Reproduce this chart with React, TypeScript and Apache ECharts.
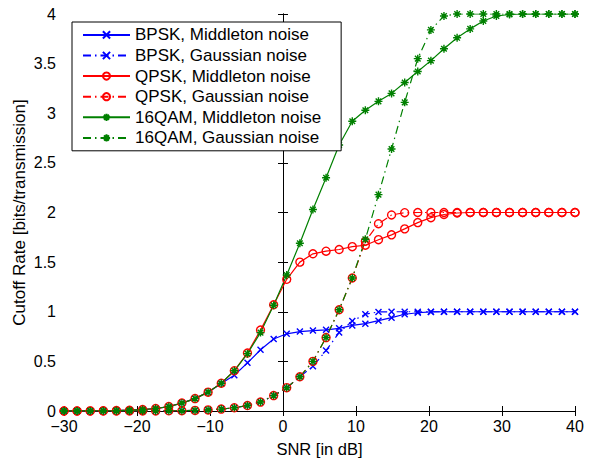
import React, { useEffect, useRef } from "react";
import * as echarts from "echarts";

const snr = [
  -30, -28.21, -26.41, -24.62, -22.82, -21.03, -19.23, -17.44, -15.64, -13.85,
  -12.05, -10.26, -8.46, -6.67, -4.87, -3.08, -1.28, 0.51, 2.31, 4.1,
  5.9, 7.69, 9.49, 11.28, 13.08, 14.87, 16.67, 18.46, 20.26, 22.05,
  23.85, 25.64, 27.44, 29.23, 31.03, 32.82, 34.62, 36.41, 38.21, 40,
];

const bpskMiddleton = [
  0, 0, 0.001, 0.002, 0.004, 0.008, 0.014, 0.025, 0.045, 0.08,
  0.125, 0.19, 0.277, 0.36, 0.485, 0.617, 0.726, 0.778, 0.8, 0.81,
  0.818, 0.833, 0.862, 0.88, 0.91, 0.94, 0.975, 0.99, 0.998, 1,
  1, 1, 1, 1, 1, 1, 1, 1, 1, 1,
];
const bpskGaussian = [
  0, 0, 0, 0, 0, 0, 0, 0.001, 0.002, 0.003,
  0.006, 0.011, 0.019, 0.033, 0.055, 0.09, 0.155, 0.235, 0.345, 0.45,
  0.61, 0.79, 0.907, 0.975, 0.998, 1, 1, 1, 1, 1,
  1, 1, 1, 1, 1, 1, 1, 1, 1, 1,
];
const qpskMiddleton = [
  0, 0, 0.001, 0.002, 0.004, 0.008, 0.014, 0.025, 0.045, 0.08,
  0.125, 0.19, 0.28, 0.406, 0.584, 0.815, 1.07, 1.327, 1.5, 1.584,
  1.61, 1.627, 1.656, 1.67, 1.726, 1.775, 1.835, 1.898, 1.948, 1.98,
  1.995, 2, 2, 2, 2, 2, 2, 2, 2, 2,
];
const qpskGaussian = [
  0, 0, 0, 0, 0, 0, 0, 0.001, 0.002, 0.003,
  0.006, 0.011, 0.019, 0.033, 0.055, 0.09, 0.155, 0.235, 0.345, 0.5,
  0.74, 1.02, 1.34, 1.71, 1.887, 1.975, 1.998, 2, 2, 2,
  2, 2, 2, 2, 2, 2, 2, 2, 2, 2,
];
const qamMiddleton = [
  0, 0, 0.001, 0.002, 0.004, 0.008, 0.014, 0.025, 0.045, 0.08,
  0.125, 0.19, 0.28, 0.405, 0.578, 0.79, 1.066, 1.37, 1.69, 2.03,
  2.35, 2.68, 2.92, 3.03, 3.12, 3.2, 3.31, 3.42, 3.53, 3.65,
  3.76, 3.85, 3.93, 3.98, 3.995, 4, 4, 4, 4, 4,
];
const qamGaussian = [
  0, 0, 0, 0, 0, 0, 0, 0.001, 0.002, 0.003,
  0.006, 0.011, 0.019, 0.033, 0.055, 0.09, 0.155, 0.235, 0.345, 0.5,
  0.74, 1.02, 1.34, 1.73, 2.18, 2.64, 3.11, 3.55, 3.84, 3.98,
  4, 4, 4, 4, 4, 4, 4, 4, 4, 4,
];

const seriesNames = [
  "BPSK, Middleton noise",
  "BPSK, Gaussian noise",
  "QPSK, Middleton noise",
  "QPSK, Gaussian noise",
  "16QAM, Middleton noise",
  "16QAM, Gaussian noise",
];

const xTicks = { min: -30, max: 40, interval: 10 };
const yTicks = { min: 0, max: 4, interval: 0.5 };

const BLUE = "#0000ff";
const RED = "#ff0000";
const GREEN = "#008000";
const FONT = "Liberation Sans, Arial, Helvetica, sans-serif";

const X_PATH = "path://M0,0L10,10M10,0L0,10";
const STAR_PATH = "path://M5,0L5,10M0,5L10,5M1.5,1.5L8.5,8.5M8.5,1.5L1.5,8.5";
const DASHDOT = [8, 4, 1.5, 4];

function mk(name: string, ys: number[], color: string, symbol: string, size: number, dashed: boolean) {
  return {
    name,
    type: "line",
    data: snr.map((x, i) => [x, ys[i]]),
    symbol,
    symbolSize: size,
    showSymbol: true,
    lineStyle: { color, width: 1.2, type: dashed ? DASHDOT : "solid" },
    itemStyle: { color: "rgba(0,0,0,0)", borderColor: color, borderWidth: 1.4 },
    emphasis: { disabled: true },
  };
}

export default function App() {
  const ref = useRef<HTMLDivElement>(null);
  useEffect(() => {
    if (!ref.current) return;
    const chart = echarts.init(ref.current, null, { renderer: "svg" });
    const axisCommon = {
      axisLine: { show: true, lineStyle: { color: "#000", width: 1 } },
      axisTick: { show: true, inside: true, length: 5, lineStyle: { color: "#000" } },
      splitLine: { show: false },
    };
    chart.setOption({
      animation: false,
      backgroundColor: "#fff",
      textStyle: { fontFamily: FONT },
      grid: { left: 64, right: 16, top: 14, bottom: 44, show: false },
      legend: {
        orient: "vertical",
        left: 72,
        top: 22,
        data: seriesNames,
        itemWidth: 47,
        itemHeight: 9,
        itemGap: 3.6,
        padding: [4.4, 20, 4.4, 10],
        borderColor: "#000",
        borderWidth: 1,
        backgroundColor: "#fff",
        textStyle: { fontFamily: FONT, fontSize: 17, color: "#000" },
      },
      xAxis: [
        {
          type: "value",
          ...xTicks,
          position: "bottom",
          name: "SNR [in dB]",
          nameLocation: "middle",
          nameGap: 29,
          nameMoveOverlap: false,
          nameTextStyle: { fontFamily: FONT, fontSize: 16.5, color: "#000" },
          axisLabel: {
            fontFamily: FONT,
            fontSize: 16,
            color: "#000",
            margin: 7,
            formatter: (v: number) => (v < 0 ? "\u2212" + Math.abs(v) : String(v)),
          },
          ...axisCommon,
        },
        {
          type: "value",
          ...xTicks,
          position: "top",
          axisLabel: { show: false },
          ...axisCommon,
        },
      ],
      yAxis: [
        {
          type: "value",
          ...yTicks,
          position: "left",
          name: "Cutoff Rate [bits/transmission]",
          nameLocation: "middle",
          nameGap: 36,
          nameMoveOverlap: false,
          nameTextStyle: { fontFamily: FONT, fontSize: 17, color: "#000" },
          axisLabel: { fontFamily: FONT, fontSize: 16, color: "#000", margin: 8 },
          ...axisCommon,
        },
        {
          type: "value",
          ...yTicks,
          position: "right",
          axisLabel: { show: false },
          ...axisCommon,
        },
      ],
      series: [
        mk(seriesNames[0], bpskMiddleton, BLUE, X_PATH, 6, false),
        mk(seriesNames[1], bpskGaussian, BLUE, X_PATH, 6, true),
        mk(seriesNames[2], qpskMiddleton, RED, "circle", 8, false),
        mk(seriesNames[3], qpskGaussian, RED, "circle", 8, true),
        mk(seriesNames[4], qamMiddleton, GREEN, STAR_PATH, 8, false),
        mk(seriesNames[5], qamGaussian, GREEN, STAR_PATH, 8, true),
      ],
    });
    return () => chart.dispose();
  }, []);
  return (
    <div style={{ position: "absolute", left: 0, top: 0, width: 591, height: 462, background: "#fff" }}>
      <div ref={ref} style={{ width: 591, height: 462 }} />
    </div>
  );
}
